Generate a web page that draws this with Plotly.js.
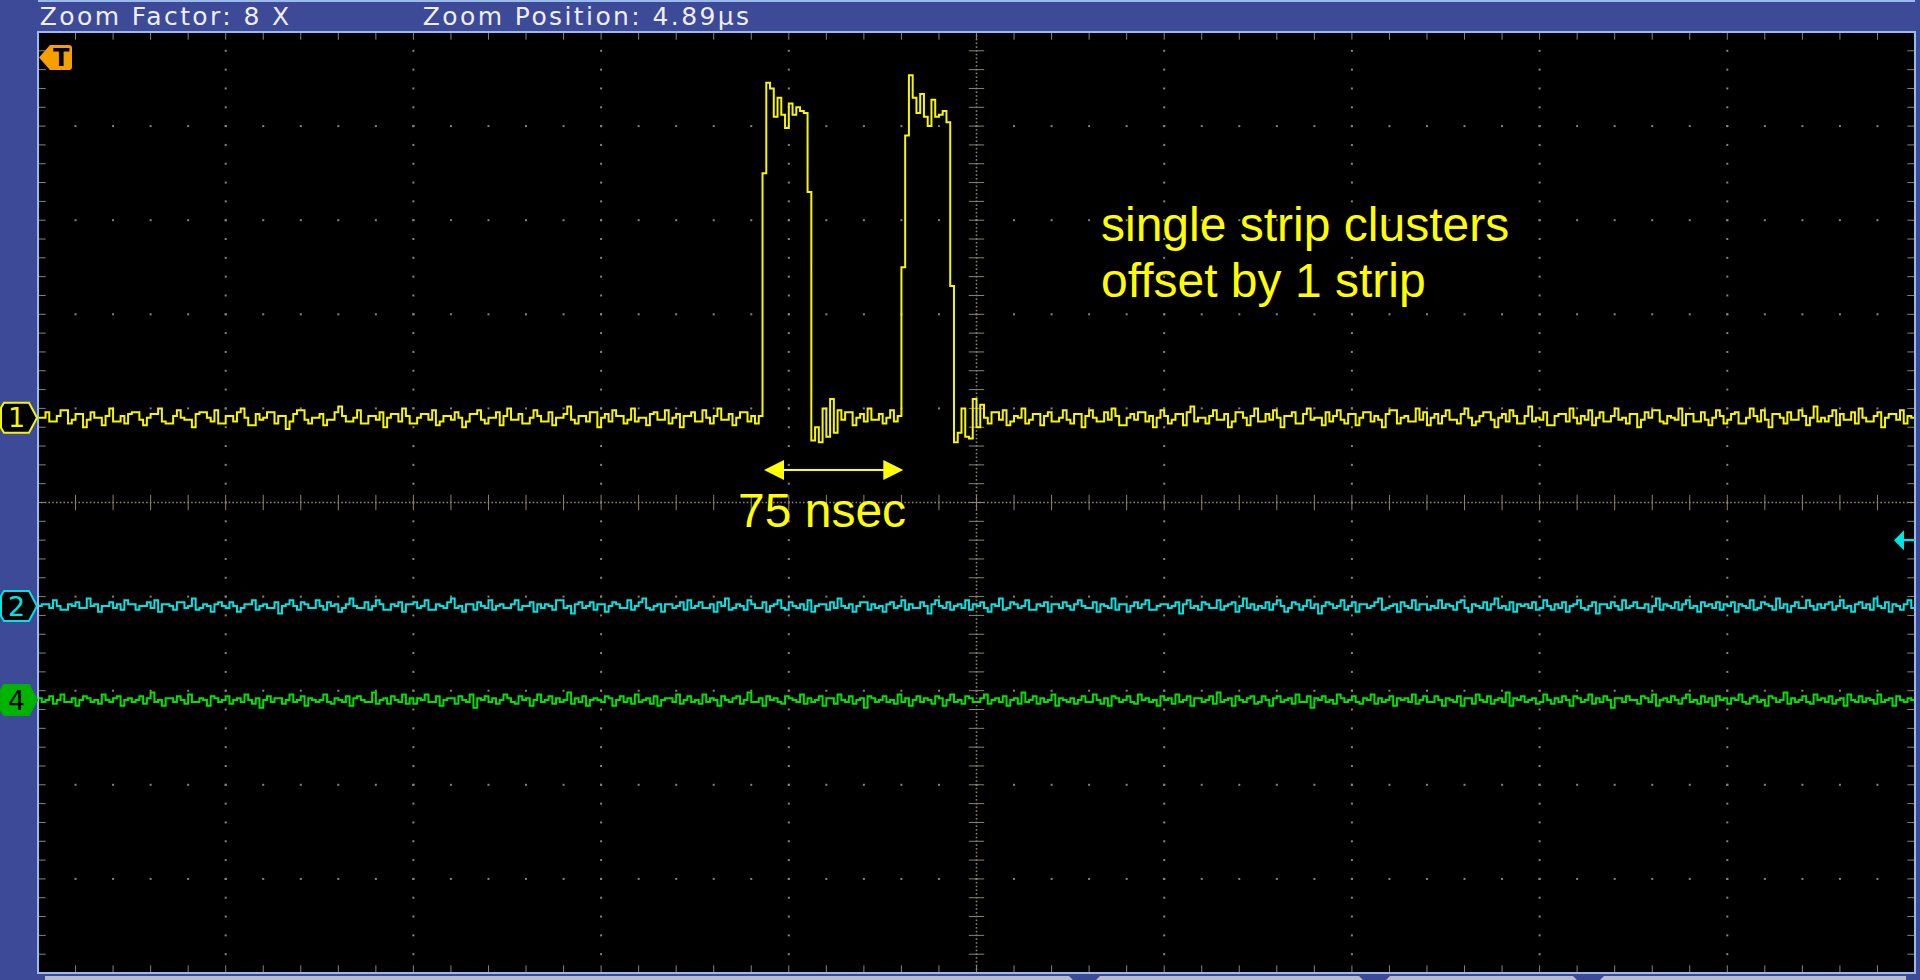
<!DOCTYPE html>
<html>
<head>
<meta charset="utf-8">
<script src="https://cdn.plot.ly/plotly-3.0.1.min.js"></script>
<style>
  html, body { margin: 0; padding: 0; background: #3c4a98; overflow: hidden; }
  #scope { width: 1920px; height: 980px; }
  /* status-bar lettering is spaced out like the instrument's font */
  g.annotation[data-index="0"] text, g.annotation[data-index="1"] text { letter-spacing: 2.4px; }
</style>
</head>
<body>
<div id="scope"></div>
<script>
// ---- Acquisition settings ----
const zoomFactor = 8;
const zoomPositionUs = 4.89;
const sampleIntervalNs = 2;      // one sample every 2 ns
const firstSampleNs = -500;      // time of first sample, relative to zoom position
const timePerDivNs = 100;

// Vertical settings: mV/div and ground-marker position (div from centre)
const ch1ScaleMv = 50, ch1PositionDiv = 0.9;
const ch2ScaleMv = 50, ch2PositionDiv = -1.1;
const ch4ScaleMv = 50, ch4PositionDiv = -2.1;
const triggerLevelMv = 35;       // trigger level, channel 2

// Pulse spacing marked on the display
const pulseSpacingNs = 75;
const spacingStartNs = -114;

// ---- Channel 1 (yellow), mV ----
const ch1Mv = [
  0,0,3,-2,-2,1,4,4,-3,-1, 2,2,-5,-1,3,0,0,-4,1,5, -2,-2,1,-3,2,
  3,3,-1,-4,0,2,2,5,-2,-3, -3,1,4,0,-1,-1,-5,2,3,3, 0,-2,4,-3,-3,
  1,1,-2,3,5,0,-4,-4,2,-1, 0,3,3,-3,1,1,-6,-2,2,4, 4,-1,-3,0,0,
  2,-4,-1,-1,3,6,1,-2,-2,0, 4,-3,-3,1,1,-1,3,-5,0,2, 2,-2,5,1,-3,
  -3,0,2,2,-1,4,-4,-2,1,1, -1,3,0,-5,-2,2,2,4,-1,-3, 0,0,3,-4,1,
  5,-1,-1,2,-3,-3,0,4,1,-2, -2,3,-4,0,0,2,6,-1,-3,1, 1,-2,3,3,-5,
  0,2,-2,4,1,1,-3,-1,5,-2, 0,0,-4,2,3,-1,-1,4,-3,0, 2,-5,1,1,3,
  -2,-2,4,0,-3,1,5,-1,-1,2, -4,0,3,3,-2,1,-3, 1, 130,178,175,160,170,161,154,
  167,161,165,163,162,120,-12,-5,-13,5,-10,10,-8,4, -1,3,3,-4,0,2,-2,5,-1,-1,2,
  -3,0,4,-2,1, 80,150,182,170,162,172,160,155,169,160,161,163,157,70,-13,-8,5,-10,-11,10,
  -5,7, 0,-3,3,3,-1,4,-4,-2,1,0, 5,-3,-1,2,2,-4,1,3,-2,-2, 0,4,-1,
  -3,2,2,-5,1,4,0,-2,-2,3, -1,5,1,-4,-4,0,2,-1,3,3, -2,1,-5,0,4,
  1,-3,-1,2,2,-4,3,6,-2,0, 0,-3,1,4,-1,-1,2,-5,-2,3, 3,0,-4,1,5,
  -2,-2,2,-1,4,0,-5,1,1,3, -3,-3,2,5,-1,0,0,-4,3,-2, 1,4,-1,-3,2,
  2,-4,0,3,3,-2,1,-1,-5,2, 4,4,-3,0,1,-2,-2,5,-1,3, -4,0,2,-3,1,
  4,-1,-1,-3,2,5,0,-4,-2,1, 3,3,-1,-5,0,2,-2,4,1,-3, -3,1,6,-2,0,
  -1,3,-4,-4,1,2,2,-2,5,0, -3,1,-1,4,-4,0,3,-2,-2,1, 5,-1,0,-3,2,
  2,-5,-1,3,0,4,4,-2,-3,1, 0,-1,5,-4,2,2,-2,-2,3,-1, -4,0,4,1,-3,
  -1,2,3,-3,-3,0,5,1,-2,4, -1,-5,2,2,0,-3,3,-1,-1,4, 1,-4,0,6,-2,
  0,-2,1,4,-4,2,-1,-1,3,-3, 5,0,-2,-2,1,3,-5,0,2,2, -1,4,-3,1,0,
  -2
];

// ---- Channel 2 (cyan), mV ----
const ch2Mv = [
  0,1,1,-1,3,0,-2,-2,1,0, 2,-1,-1,4,0,1,-3,0,0,2, -1,1,-2,3,1,
  1,-2,0,0,2,-1,3,-3,1,1, 0,-2,2,2,-1,0,4,-2,-1,1, 0,-3,1,2,0,
  -1,2,0,-3,-1,1,1,3,-2,0, 1,-1,-1,2,-4,0,1,3,0,-2, 2,1,-1,-1,3,
  0,-2,2,0,1,-3,-1,1,4,0, -1,-1,2,-2,0,3,1,-2,-2,1, 0,2,-3,1,1,
  2,-1,0,3,-2,-2,1,0,-1,2, 4,-1,0,-3,1,1,-2,2,0,-1, 3,-2,0,1,-1,
  -1,1,3,-2,0,0,2,-3,1,-1, 1,0,-2,3,3,-1,0,-4,1,2, -1,0,2,-2,1,
  1,-3,0,2,1,-1,-1,3,-2,0, 2,4,-1,-2,0,1,-3,1,1,-1, 0,2,-2,3,-1,
  0,2,-1,-1,1,-3,2,0,4,-2, -1,1,0,-2,3,1,-1,-1,2,-3, 0,1,3,-1,-2,
  2,0,-1,1,-2,3,-3,0,1,1, -2,2,-1,4,0,-1,1,-3,0,2, 2,-2,1,-1,0,
  -3,1,2,-1,0,3,-2,1,-1,-1, 2,0,-4,1,3,0,-1,2,-2,0, 1,-1,3,-2,1,
  0,2,-1,-3,1,0,4,-2,-1,2, 1,-1,0,3,-2,-2,1,0,2,-3, 1,1,-1,2,0,
  -2,1,3,0,-1,-1,2,-3,1,0, -1,4,-2,1,1,-3,0,2,-1,1, 3,-2,-2,0,1,
  1,-1,0,2,-4,1,3,-1,0,-2, 2,1,-1,-1,3,-2,0,1,2,-3, 0,4,-1,1,-2,
  0,-1,2,-2,1,3,0,-3,-1,2, 1,-2,0,3,-1,1,-4,0,2,1, -1,0,3,-2,0,
  2,-3,1,1,-1,0,2,4,-2,-1, 0,1,-3,2,0,-1,3,-2,1,1, -2,0,-1,3,-1,
  1,0,-2,2,3,-1,-3,1,0,-1, 2,-2,1,4,-1,0,-2,2,-3,1, 0,1,-1,2,-2,
  -1,3,0,-2,1,-1,2,-3,0,1, 3,-1,-2,0,2,-4,1,1,-1,2, 0,-2,3,-1,0,
  2,-1,-1,1,-3,0,4,-2,1,0, -1,2,-2,1,3,-1,0,-3,2,0, 1,-1,2,-2,1,
  0,2,-3,1,0,-1,3,-2,-1,2, 1,0,-2,4,-1,1,-3,0,2,-1, -1,3,0,-2,1,
  -1,1,2,-2,0,3,-1,0,-3,1, 2,-1,1,-2,4,0,-1,2,-3,1, 0,-2,1,3,-1,
  0
];

// ---- Channel 4 (green), mV ----
const ch4Mv = [
  1,-1,0,2,-2,0,3,-1,-1,1, -3,0,2,1,-1,0,-2,3,0,-1, 1,2,-3,0,1,
  -1,0,2,-2,1,4,-1,0,-3,1, 1,-1,2,0,-2,3,-1,-1,1,0, -3,2,1,-1,0,
  2,-2,0,1,-1,3,0,-2,1,-4, 0,2,-1,1,1,-2,0,3,-1,0, 2,-3,1,0,-1,
  0,3,-1,-2,1,0,-1,2,-3,1, 2,0,-1,-1,4,-2,0,1,-2,2, 0,-1,3,-2,1,
  -2,1,0,3,-1,-1,2,-3,0,1, 1,-2,2,0,-1,3,-4,1,0,2, -1,1,-2,0,3,
  1,-1,-2,2,0,1,-3,0,3,-1, 0,2,-2,1,-1,0,4,-2,1,-1, 2,-3,0,1,0,
  -1,2,1,-3,0,2,-1,1,-2,3, -1,0,1,-2,2,-3,0,1,1,-1, 3,-2,0,2,-1,
  0,-2,3,-1,1,0,-3,2,0,-1, 1,2,-2,0,4,-1,-1,1,-3,2, 0,1,-1,-2,2,
  1,0,-1,3,-2,1,-1,0,2,-3, 1,1,-2,3,0,-1,2,-2,0,1, -4,2,1,-1,0,
  2,-1,0,-2,3,-1,1,-3,0,2, -1,1,0,-2,2,1,-3,0,3,-1, 0,-2,2,1,-1,
  -1,1,3,-2,0,1,-1,2,-3,0, 1,-2,4,-1,0,2,-2,1,-1,0, 3,-3,1,0,-1,
  1,-2,0,2,-1,-1,3,0,-2,1, -3,2,1,-1,0,2,-1,-2,3,0, 1,-1,0,-3,2,
  0,1,-2,3,-1,0,2,-3,1,1, -1,0,2,-2,4,-1,0,1,-3,2, 0,-1,1,2,-2,
  -1,2,0,-3,1,2,-1,0,1,-2, 3,-1,-1,2,-4,1,0,2,-1,0, -2,3,1,-1,0,
  2,-1,-2,1,0,3,-2,1,-1,0, 2,-3,1,0,1,-1,3,-2,0,2, -1,-1,2,0,-3,
  1,0,-1,2,-3,1,1,-2,3,0, -1,2,-2,0,1,-1,4,-3,1,0, 2,-1,0,1,-2,
  -1,3,0,-2,1,-1,2,0,-3,2, 1,-1,0,3,-2,1,-1,2,0,-4, 1,1,-1,2,0,
  0,-2,2,1,-1,3,-3,0,1,-1, 2,0,-2,1,3,-1,0,-2,2,-1, 1,-3,2,0,1,
  -2,1,0,3,-1,-2,1,2,-1,0, -3,2,1,-1,0,4,-2,1,-1,0, 2,-1,-2,3,0,
  1,-1,2,-2,0,1,-3,3,0,-1, 2,-1,1,0,-2,3,-1,0,1,-3, 2,0,-1,1,0,
  1
];

// ---- Screen geometry ----
const DIVS_X = 10, DIVS_Y = 10, MINOR = 5;
const halfX = DIVS_X / 2 * timePerDivNs;       // +-500 ns
const halfY = DIVS_Y / 2;                      // +-5 div
const M = { l: 38, r: 5, t: 32, b: 7 };
const BG = '#3c4a98';
const FRAME = '#9ab9ee';
const GRID = 'rgb(140,132,112)';
const YEL = '#f6f600', CYAN = '#00e4e4', GREEN = '#00e200';

const sampleTimes = (arr) => arr.map((_, i) => firstSampleNs + i * sampleIntervalNs);
const chRange = (scale, pos) => [(-halfY - pos) * scale, (halfY - pos) * scale];

// ---- Graticule ----
const dotX = [], dotY = [];
for (let k = -DIVS_X / 2 + 1; k < DIVS_X / 2; k++) {
  if (k === 0) continue;
  for (let m = -halfY * MINOR; m <= halfY * MINOR; m++) { dotX.push(k * timePerDivNs); dotY.push(m / MINOR); }
}
for (let j = -halfY + 1; j < halfY; j++) {
  if (j === 0) continue;
  for (let m = -DIVS_X / 2 * MINOR; m <= DIVS_X / 2 * MINOR; m++) { dotX.push(m * timePerDivNs / MINOR); dotY.push(j); }
}
// dense centre cross-hair
const cX = [], cY = [];
for (let t = -halfX; t <= halfX; t += 2) { cX.push(t); cY.push(0); }
for (let v = -halfY; v <= halfY + 1e-9; v += 0.04) { cX.push(0); cY.push(v); }
// minor tick marks on the centre axes and on the frame
const tnsX = [], tnsY = [], tewX = [], tewY = [];
for (let m = -DIVS_X / 2 * MINOR; m <= DIVS_X / 2 * MINOR; m++) {
  const t = m * timePerDivNs / MINOR;
  tnsX.push(t, t, t); tnsY.push(0, -halfY, halfY);
}
for (let m = -halfY * MINOR; m <= halfY * MINOR; m++) {
  const v = m / MINOR;
  tewX.push(0, -halfX, halfX); tewY.push(v, v, v);
}

const wave = (y, axis, color) => ({
  x: sampleTimes(y), y: y, yaxis: axis, mode: 'lines', hoverinfo: 'skip',
  line: { color: color, width: 2, shape: 'hv' }
});

const traces = [
  { x: dotX, y: dotY, mode: 'markers', hoverinfo: 'skip',
    marker: { symbol: 'square', size: 2, color: GRID } },
  { x: cX, y: cY, mode: 'markers', hoverinfo: 'skip',
    marker: { symbol: 'square', size: 1.6, color: GRID } },
  { x: tnsX, y: tnsY, mode: 'markers', hoverinfo: 'skip',
    marker: { symbol: 'line-ns', size: 11, color: GRID, line: { color: GRID, width: 1 } } },
  { x: tewX, y: tewY, mode: 'markers', hoverinfo: 'skip',
    marker: { symbol: 'line-ew', size: 11, color: GRID, line: { color: GRID, width: 1 } } },
  wave(ch1Mv, 'y2', YEL),
  wave(ch2Mv, 'y3', CYAN),
  wave(ch4Mv, 'y4', GREEN)
];

// ---- Channel ground markers, trigger markers, frame ----
const badge = 'M -37,-10 L -34,-15 L -9,-15 L -1,0 L -9,15 L -34,15 L -37,10 Z';
function groundMarker(yref, stroke, fill) {
  return { type: 'path', xref: 'paper', xsizemode: 'pixel', xanchor: 0,
           yref: yref, ysizemode: 'pixel', yanchor: 0, path: badge,
           fillcolor: fill, line: { color: stroke, width: 2 } };
}
const shapes = [
  { type: 'rect', xref: 'paper', yref: 'paper', x0: 0, x1: 1, y0: 0, y1: 1,
    line: { color: FRAME, width: 2 }, fillcolor: 'rgba(0,0,0,0)' },
  { type: 'line', xref: 'paper', yref: 'paper', x0: 0, x1: 1, ysizemode: 'pixel', yanchor: 1, y0: 31, y1: 31,
    line: { color: FRAME, width: 2 } },
  // bottom menu strip
  { type: 'rect', xref: 'paper', xsizemode: 'pixel', xanchor: 0, x0: 7, x1: 1868,
    yref: 'paper', ysizemode: 'pixel', yanchor: 0, y0: -3, y1: -9,
    fillcolor: '#b9bdc9', line: { width: 0 } },
  ...[1031, 1321, 1535].map(px => ({
    type: 'path', xref: 'paper', xsizemode: 'pixel', xanchor: 0,
    yref: 'paper', ysizemode: 'pixel', yanchor: 0,
    path: `M ${px},-3 L ${px + 31},-3 L ${px + 25},-9 L ${px + 6},-9 Z`,
    fillcolor: BG, line: { width: 0 } })),
  groundMarker('y2', YEL, '#000'),
  groundMarker('y3', CYAN, '#000'),
  groundMarker('y4', '#00b000', '#00b400'),
  // trigger position (off screen to the left)
  { type: 'path', xref: 'paper', xsizemode: 'pixel', xanchor: 0,
    yref: 'paper', ysizemode: 'pixel', yanchor: 1,
    path: 'M 1,-25.5 L 12,-13 L 31,-13 Q 34,-13 34,-16 L 34,-35 Q 34,-38 31,-38 L 12,-38 Z',
    fillcolor: '#f5a000', line: { width: 0 } },
  // trigger level
  { type: 'path', xref: 'paper', xsizemode: 'pixel', xanchor: 1,
    yref: 'y3', ysizemode: 'pixel', yanchor: triggerLevelMv,
    path: 'M -21,0 L -11,10 L -11,1.2 L 0,1.2 L 0,-1.2 L -11,-1.2 L -11,-10 Z',
    fillcolor: CYAN, line: { width: 0 } }
];

const hdrFont = { family: 'DejaVu Sans', size: 25, color: '#eeeef6' };
const noteFont = { family: 'Liberation Sans, Arial, sans-serif', size: 48, color: '#ffff00' };
const badgeFont = (c) => ({ family: 'DejaVu Sans', size: 27, color: c });
const badgeLabel = (text, yref, color) => ({
  text: text, xref: 'paper', x: 0, xshift: -22, yref: yref, y: 0,
  xanchor: 'center', yanchor: 'middle', showarrow: false, font: badgeFont(color)
});
const annotations = [
  { text: `Zoom Factor: ${zoomFactor} X`, xref: 'paper', yref: 'paper', x: 0, y: 1,
    xanchor: 'left', yanchor: 'middle', xshift: 19, yshift: 16, showarrow: false, font: hdrFont },
  { text: `Zoom Position: ${zoomPositionUs}µs`, xref: 'paper', yref: 'paper', x: 0, y: 1,
    xanchor: 'left', yanchor: 'middle', xshift: 408, yshift: 16, showarrow: false, font: hdrFont },
  badgeLabel('1', 'y2', YEL),
  badgeLabel('2', 'y3', CYAN),
  badgeLabel('4', 'y4', '#000000'),
  { text: '<b>T</b>', xref: 'paper', x: 0, xshift: 23, yref: 'paper', y: 1, yshift: -25.5,
    xanchor: 'center', yanchor: 'middle',
    showarrow: false, font: { family: 'DejaVu Sans', size: 24, color: '#000000' } },
  // pulse spacing arrow
  { text: '', xref: 'x', yref: 'y', axref: 'x', ayref: 'y',
    x: spacingStartNs + pulseSpacingNs, y: 0.345, ax: spacingStartNs, ay: 0.345,
    showarrow: true, arrowside: 'end+start', arrowhead: 2, arrowsize: 2, arrowwidth: 2,
    arrowcolor: '#ffff00', standoff: 0, startstandoff: 0 },
  { text: `${pulseSpacingNs} nsec`, xref: 'x', yref: 'y', x: -82.4, y: -0.08,
    xanchor: 'center', yanchor: 'middle', showarrow: false, font: noteFont },
  { text: 'single strip clusters', xref: 'x', yref: 'y', x: 65, y: 2.95,
    xanchor: 'left', yanchor: 'middle', showarrow: false, font: noteFont },
  { text: 'offset by 1 strip', xref: 'x', yref: 'y', x: 65, y: 2.36,
    xanchor: 'left', yanchor: 'middle', showarrow: false, font: noteFont }
];

const hidden = { visible: false, fixedrange: true, showgrid: false, zeroline: false };
const layout = {
  width: 1920, height: 980,
  margin: { l: M.l, r: M.r, t: M.t, b: M.b, pad: 0 },
  paper_bgcolor: BG, plot_bgcolor: '#000000',
  showlegend: false, hovermode: false,
  xaxis: { ...hidden, range: [-halfX, halfX] },
  yaxis: { ...hidden, range: [-halfY, halfY] },
  yaxis2: { ...hidden, overlaying: 'y', range: chRange(ch1ScaleMv, ch1PositionDiv) },
  yaxis3: { ...hidden, overlaying: 'y', range: chRange(ch2ScaleMv, ch2PositionDiv) },
  yaxis4: { ...hidden, overlaying: 'y', range: chRange(ch4ScaleMv, ch4PositionDiv) },
  shapes: shapes,
  annotations: annotations
};

Plotly.newPlot('scope', traces, layout, { staticPlot: true, displayModeBar: false });
</script>
</body>
</html>
